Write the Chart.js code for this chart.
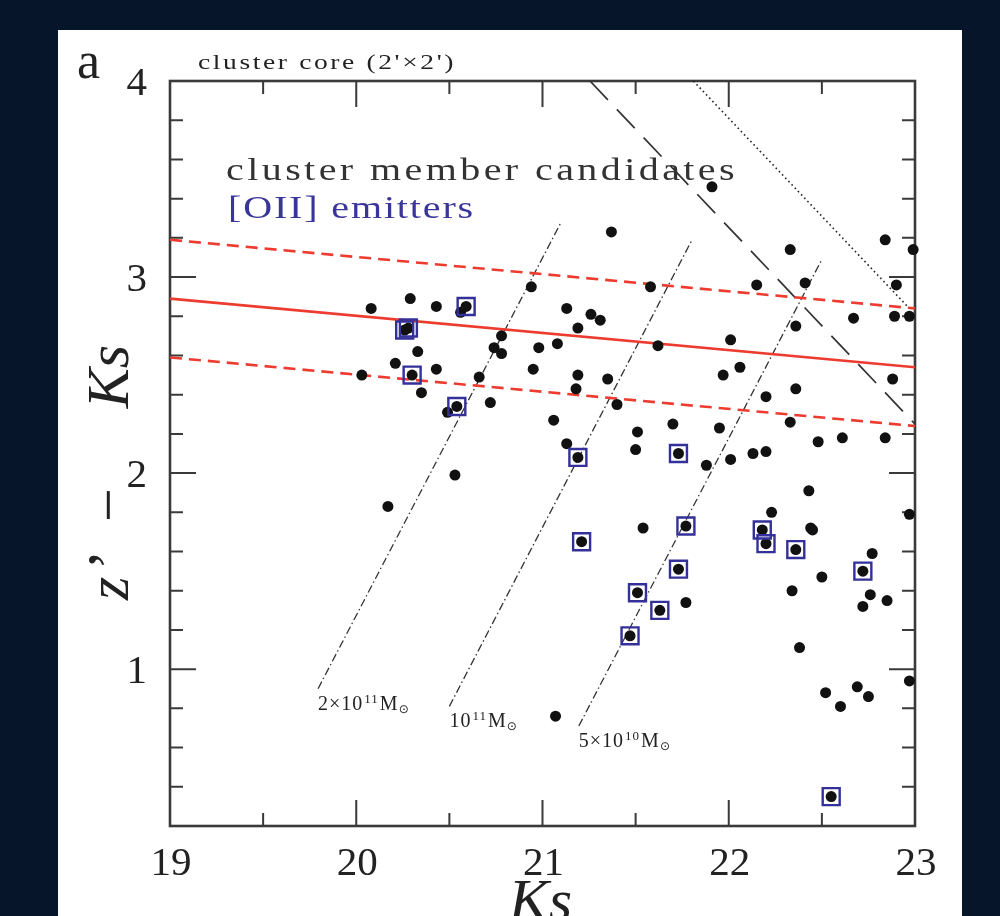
<!DOCTYPE html>
<html lang="en">
<head>
<meta charset="UTF-8">
<title>z' - Ks vs Ks, cluster core</title>
<script src="https://cdn.jsdelivr.net/npm/chart.js@4.4.0/dist/chart.umd.min.js"></script>
<style>
  html, body { margin: 0; padding: 0; background: #07152b; }
  canvas { display: block; }
</style>
</head>
<body>
<canvas id="chart" width="1000" height="916"></canvas>
<script>
// cluster member candidates (no [OII])
const memberKs = [20.08, 20.03, 20.17, 20.29, 20.21, 20.33, 20.35, 20.43, 20.43, 20.49,
  20.56, 20.53, 20.66, 20.72, 20.74, 20.78, 20.78, 20.94, 20.98, 21.08,
  20.95, 21.06, 21.13, 21.19, 21.26, 21.31, 21.19, 21.18, 21.35, 21.40,
  21.13, 21.37, 21.07, 21.91, 21.58, 21.62, 22.01, 21.97, 22.06, 22.15,
  22.33, 22.41, 22.36, 22.84, 22.99, 22.90, 22.67, 22.89, 22.97, 22.88,
  22.36, 22.20, 21.51, 21.70, 21.95, 22.33, 21.50, 21.88, 22.01, 22.13,
  22.20, 22.48, 22.61, 22.84, 22.43, 22.23, 22.97, 21.54, 22.44, 22.45,
  22.77, 22.50, 21.77, 22.34, 22.76, 22.72, 22.85, 22.38, 22.97, 22.52,
  22.60, 22.69, 22.75];
const memberColor = [2.84, 2.50, 1.83, 2.89, 2.56, 2.62, 2.41, 2.85, 2.53, 2.31,
  2.82, 1.99, 2.49, 2.36, 2.64, 2.70, 2.61, 2.95, 2.64, 2.66,
  2.53, 2.27, 2.84, 2.74, 2.81, 2.78, 2.50, 2.43, 2.48, 2.35,
  2.15, 3.23, 0.76, 3.46, 2.95, 2.65, 2.68, 2.50, 2.54, 2.96,
  3.14, 2.97, 2.75, 3.19, 3.14, 2.96, 2.79, 2.80, 2.80, 2.48,
  2.43, 2.39, 2.21, 2.25, 2.23, 2.26, 2.12, 2.04, 2.07, 2.10,
  2.11, 2.16, 2.18, 2.18, 1.91, 1.80, 1.79, 1.72, 1.72, 1.71,
  1.59, 1.47, 1.34, 1.40, 1.38, 1.32, 1.35, 1.11, 0.94, 0.88,
  0.81, 0.91, 0.86];

// [OII] emitters
const emitterKs = [20.26, 20.28, 20.59, 20.30, 20.54, 21.19, 21.21, 21.73, 21.77, 22.18,
  22.20, 22.36, 21.73, 22.72, 21.51, 21.63, 21.47, 22.55];
const emitterColor = [2.73, 2.74, 2.85, 2.50, 2.34, 2.08, 1.65, 2.10, 1.73, 1.71,
  1.64, 1.61, 1.51, 1.50, 1.39, 1.30, 1.17, 0.35];

// red sequence fit and band
const fitKs = [19, 23];
const fitColor = [2.89, 2.54];
const fitUpper = [3.19, 2.84];
const fitLower = [2.59, 2.24];

// magnitude limits
const limitKs = [21.255, 23];
const limitColor = [4, 2.25];
const limit2Ks = [21.81, 22.96];
const limit2Color = [4, 2.85];

// stellar mass tracks
const massKs = [[19.795, 21.10], [20.50, 21.80], [21.195, 22.50]];
const massColor = [[0.90, 3.28], [0.81, 3.185], [0.71, 3.09]];
const massPre = ['2×10', '10', '5×10'];
const massExp = ['11', '11', '10'];

// axes
const xTicks = [19, 20, 21, 22, 23];
const xMinor = [19.5, 20.5, 21.5, 22.5];
const yTicks = [1, 2, 3, 4];
const yMinor = [0.4, 0.6, 0.8, 1.2, 1.4, 1.6, 1.8, 2.2, 2.4, 2.6, 2.8, 3.2, 3.4, 3.6, 3.8];

const SERIF = '"Liberation Serif", "DejaVu Serif", serif';
const RED = '#ee3b2f';
const BLUE = '#34309a';
const INK = '#333';

const pts = (xs, ys) => xs.map((x, i) => ({ x: x, y: ys[i] }));

function lineSet(xs, ys, color, width, dash) {
  return {
    data: pts(xs, ys), showLine: true, borderColor: color, borderWidth: width,
    borderDash: dash, pointRadius: 0, fill: false, order: 3
  };
}

// draw text stretched (a bit wider, then letter spaced) to a target width
function label(ctx, str, x, y, font, color, width) {
  ctx.save();
  ctx.font = font;
  ctx.fillStyle = color;
  ctx.textBaseline = 'alphabetic';
  ctx.translate(x, y);
  if (width) {
    const w = ctx.measureText(str).width;
    const sx = Math.min(1.25, width / w);
    ctx.scale(sx, 1);
    ctx.letterSpacing = ((width / sx - w) / str.length) + 'px';
  }
  ctx.fillText(str, 0, 0);
  ctx.restore();
}

const decor = {
  id: 'decor',
  beforeDraw(chart) {
    const ctx = chart.ctx;
    ctx.save();
    ctx.fillStyle = '#07152b';
    ctx.fillRect(0, 0, chart.width, chart.height);
    ctx.fillStyle = '#ffffff';
    ctx.fillRect(58, 30, 904, 900);
    ctx.restore();
  },
  beforeDatasetsDraw(chart) {
    const ctx = chart.ctx;
    const a = chart.chartArea;
    const x = chart.scales.x, y = chart.scales.y;

    // frame and inward ticks on all sides
    ctx.save();
    ctx.strokeStyle = '#3a3a3a';
    ctx.lineWidth = 2;
    ctx.beginPath();
    const tx = (v, len) => {
      const p = x.getPixelForValue(v);
      ctx.moveTo(p, a.bottom); ctx.lineTo(p, a.bottom - len);
      ctx.moveTo(p, a.top); ctx.lineTo(p, a.top + len);
    };
    const ty = (v, len) => {
      const p = y.getPixelForValue(v);
      ctx.moveTo(a.left, p); ctx.lineTo(a.left + len, p);
      ctx.moveTo(a.right, p); ctx.lineTo(a.right - len, p);
    };
    xTicks.forEach(v => tx(v, 26));
    xMinor.forEach(v => tx(v, 13));
    yTicks.forEach(v => ty(v, 26));
    yMinor.forEach(v => ty(v, 13));
    ctx.stroke();
    ctx.lineWidth = 2.6;
    ctx.strokeRect(a.left, a.top, a.right - a.left, a.bottom - a.top);
    ctx.restore();

    // tick labels
    ctx.save();
    ctx.fillStyle = '#222';
    ctx.font = '41px ' + SERIF;
    ctx.textAlign = 'center';
    xTicks.forEach(v => ctx.fillText(String(v), x.getPixelForValue(v) + 1, a.bottom + 49));
    ctx.textAlign = 'right';
    yTicks.forEach(v => ctx.fillText(String(v), 147, y.getPixelForValue(v) + 14));
    ctx.restore();

    // axis titles
    ctx.save();
    ctx.fillStyle = '#222';
    ctx.font = 'italic 60px ' + SERIF;
    ctx.textAlign = 'center';
    ctx.fillText('Ks', (a.left + a.right) / 2 - 2, 920);
    ctx.translate(128, 600);
    ctx.rotate(-Math.PI / 2);
    ctx.textAlign = 'left';
    ctx.fillText('z', 0, 0);
    ctx.font = '60px ' + SERIF;
    ctx.fillText('’', 30, 0);
    ctx.fillText('−', 78, 0);
    ctx.font = 'italic 60px ' + SERIF;
    ctx.textAlign = 'right';
    ctx.fillText('Ks', 255, 0);
    ctx.restore();

    // panel texts
    label(ctx, 'a', 77, 78, '52px ' + SERIF, '#222');
    label(ctx, "cluster core (2'×2')", 198, 69, '22px ' + SERIF, '#222', 258);
    label(ctx, 'cluster member candidates', 226, 180, '32px ' + SERIF, INK, 512);
    label(ctx, '[OII] emitters', 228, 218, '32px ' + SERIF, '#3a3598', 247);

    // mass track labels
    ctx.save();
    ctx.fillStyle = '#222';
    massPre.forEach((pre, i) => {
      let px = x.getPixelForValue(massKs[i][0]);
      const py = y.getPixelForValue(massColor[i][0]) + 21;
      ctx.font = '20px ' + SERIF;
      ctx.letterSpacing = '1px';
      ctx.fillText(pre, px, py);
      px += ctx.measureText(pre).width + 1;
      ctx.font = '13px ' + SERIF;
      ctx.fillText(massExp[i], px, py - 7);
      px += ctx.measureText(massExp[i]).width + 1;
      ctx.font = '20px ' + SERIF;
      ctx.fillText('M', px, py);
      px += ctx.measureText('M').width;
      ctx.font = '12px "DejaVu Sans", sans-serif';
      ctx.fillText('⊙', px, py + 3);
    });
    ctx.restore();
  }
};

const datasets = [
  {
    data: pts(emitterKs, emitterColor), pointStyle: 'rect', pointRadius: 12,
    backgroundColor: 'rgba(0,0,0,0)', borderColor: BLUE, borderWidth: 2.4,
    order: 0, clip: false
  },
  {
    data: pts(emitterKs, emitterColor), pointRadius: 5.5, backgroundColor: '#111',
    borderWidth: 0, order: 1, clip: false
  },
  {
    data: pts(memberKs, memberColor), pointRadius: 5.5, backgroundColor: '#111',
    borderWidth: 0, order: 1, clip: false
  },
  lineSet(fitKs, fitColor, RED, 2.6, []),
  lineSet(fitKs, fitUpper, RED, 2.6, [12, 7]),
  lineSet(fitKs, fitLower, RED, 2.6, [12, 7]),
  lineSet(limitKs, limitColor, '#333', 1.7, [26, 13]),
  lineSet(limit2Ks, limit2Color, '#222', 1.6, [1.6, 3])
];
massKs.forEach((xs, i) => datasets.push(lineSet(xs, massColor[i], '#333', 1.3, [8, 3, 1.5, 3])));

new Chart(document.getElementById('chart'), {
  type: 'scatter',
  data: { datasets: datasets },
  options: {
    responsive: false,
    animation: false,
    events: [],
    layout: { padding: { left: 0, right: 85, top: 81, bottom: 0 } },
    plugins: { legend: { display: false }, tooltip: { enabled: false } },
    scales: {
      x: {
        type: 'linear', min: 19, max: 23,
        grid: { display: false }, border: { display: false }, ticks: { display: false },
        afterFit(s) { s.height = 90; }
      },
      y: {
        type: 'linear', min: 0.2, max: 4,
        grid: { display: false }, border: { display: false }, ticks: { display: false },
        afterFit(s) { s.width = 170; }
      }
    }
  },
  plugins: [decor]
});
</script>
</body>
</html>
